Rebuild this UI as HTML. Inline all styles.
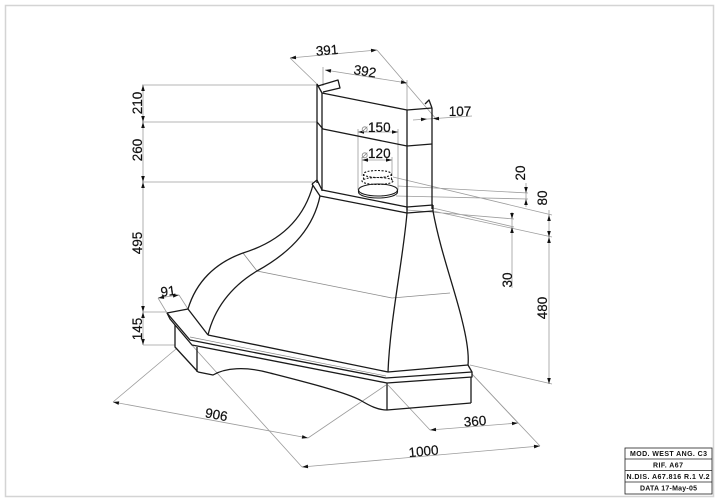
<!DOCTYPE html>
<html><head><meta charset="utf-8"><style>
html,body{margin:0;padding:0;background:#fff;}
svg{display:block;}
text{font-family:"Liberation Sans","DejaVu Sans",sans-serif;fill:#111;}
</style></head><body>
<svg width="717" height="500" viewBox="0 0 717 500" xmlns="http://www.w3.org/2000/svg">
<rect width="717" height="500" fill="#fff"/>
<rect x="5.5" y="5.5" width="708" height="491" fill="none" stroke="#d4d4d4" stroke-width="1.5"/>

<!-- gray extension / dimension lines -->
<g fill="none" stroke="#9c9c9c" stroke-width="0.8">
<path d="M142,85H317M142,122H317M142,182H313M143,85V345M143,312H167M143,345H175"/>
<path d="M158,298L167,313M179,295L188,309M158,298L179,295"/>
<path d="M113,402L308,438M113,402L176,349M308,438L386,385"/>
<path d="M302,467L540,446M302,467L190,343M540,446L472,374"/>
<path d="M430,430L518,423M430,430L388,385M518,423L472,374"/>
<path d="M526,183V207M549,210V384M512,212V288"/>
<path d="M393,177L552,215M433,211L552,237M470,365L552,384M398,186L528,193M396,196L528,199M407,210L514,219M433,208L514,227"/>
<path d="M290,58L377,50M290,58L319,86M377,50L437,120"/>
<path d="M325,70L407,83M323,67V86M407,80V110"/>
<path d="M413,120L472,116"/>
<path d="M358,132H398M358,129V190M398,129V190"/>
<path d="M362,160H392M362,157V176M392,157V176"/>
<path d="M243,253L257,271L392,298L450,293" stroke="#8a8a8a"/>
</g>

<!-- object lines -->
<g fill="none" stroke="#1a1a1a" stroke-width="1.3" stroke-linejoin="round">
<path d="M317,84V183M322,93V191M407,110V210M432,108V209"/>
<path d="M317,84L322,93L407,110L432,108"/>
<path d="M318,86L338,80L340,88L323,92"/>
<path d="M425,104L429,100L432,108"/>
<path d="M317,122L323,129L407,146L432,144"/>
<path d="M312,184L317,180L322,190L407,207L433,205"/>
<path d="M312,184L320,196L407,213L433,211"/>
<path d="M407,207V213M433,205V211"/>
<path d="M313,185C305,215 285,240 243,253C215,263 196,282 188,309"/>
<path d="M320,196C314,225 295,250 257,271C230,287 214,310 208,335"/>
<path d="M407,213C403,260 390,320 388,372"/>
<path d="M433,211C440,250 455,290 462,320C467,340 469,355 468,365"/>
<path d="M208,335L388,372L468,365"/>
<path d="M167,313L188,309L208,335"/>
<path d="M167,313L190,340L386,378L472,372L468,365"/>
<path d="M167,313L170,319L192,345L387,383L472,377L472,372"/>
<path d="M175,325V347L198,372M197,347V372"/>
<path d="M198,372L213,375C225,368 245,366 270,373C305,382 345,392 360,400C370,406 378,410 387,410L471,403"/>
<path d="M387,383V410M471,377V403"/>
</g>
<path d="M190,337L386,376" fill="none" stroke="#888" stroke-width="0.7"/>

<!-- pipe -->
<g fill="none" stroke="#1a1a1a" stroke-width="1.1">
<ellipse cx="377.5" cy="174" rx="14" ry="3.5" stroke-dasharray="2 1.5"/>
<ellipse cx="377.5" cy="181" rx="15.5" ry="3.5" stroke-dasharray="2 1.5"/>
<path d="M363.5,174V181M391.5,174V181" stroke-dasharray="2 1.5"/>
<ellipse cx="378" cy="190" rx="19.5" ry="6"/>
<path d="M358.5,190V192A19.5,6 0 0,0 397.5,192V190"/>
</g>

<!-- arrowheads -->
<g fill="#111">
<polygon points="143,85 141.2,91 144.8,91"/>
<polygon points="143,122 141.2,116 144.8,116"/>
<polygon points="143,122 141.2,128 144.8,128"/>
<polygon points="143,182 141.2,176 144.8,176"/>
<polygon points="143,182 141.2,188 144.8,188"/>
<polygon points="143,312 141.2,306 144.8,306"/>
<polygon points="143,312 141.2,318 144.8,318"/>
<polygon points="143,345 141.2,339 144.8,339"/>
<polygon points="526,193 524.2,187 527.8,187"/>
<polygon points="526,199 524.2,205 527.8,205"/>
<polygon points="549,215 547.2,221 550.8,221"/>
<polygon points="549,237 547.2,231 550.8,231"/>
<polygon points="549,237 547.2,243 550.8,243"/>
<polygon points="549,384 547.2,378 550.8,378"/>
<polygon points="512,219 510.2,213 513.8,213"/>
<polygon points="512,227 510.2,233 513.8,233"/>
<polygon points="358,132 364,130.2 364,133.8"/>
<polygon points="398,132 392,130.2 392,133.8"/>
<polygon points="362,160 368,158.2 368,161.8"/>
<polygon points="392,160 386,158.2 386,161.8"/>
<polygon points="427,119 421.1,121.2 420.9,117.6"/>
<polygon points="433,118.6 439.1,120.4 438.9,116.8"/>
<polygon points="290,58 296.13,59.24 295.81,55.66"/>
<polygon points="377,50 371.19,52.34 370.87,48.76"/>
<polygon points="325,70 330.65,72.72 331.21,69.16"/>
<polygon points="407,83 400.79,83.84 401.35,80.28"/>
<polygon points="113,402 118.57,404.86 119.23,401.32"/>
<polygon points="308,438 301.77,438.68 302.43,435.14"/>
<polygon points="302,467 308.14,468.26 307.82,464.68"/>
<polygon points="540,446 534.18,448.32 533.86,444.74"/>
<polygon points="430,430 436.12,431.31 435.84,427.73"/>
<polygon points="518,423 512.16,425.27 511.88,421.69"/>
<polygon points="158,298 164.19,298.93 163.69,295.37"/>
<polygon points="179,295 173.31,297.63 172.81,294.07"/>
</g>

<!-- dimension texts -->
<g font-size="13.5" text-anchor="middle" stroke="#111" stroke-width="0.2">
<text transform="translate(137,103) rotate(-90)" y="4.8">210</text>
<text transform="translate(137,150) rotate(-90)" y="4.8">260</text>
<text transform="translate(137,243) rotate(-90)" y="4.8">495</text>
<text transform="translate(137,329) rotate(-90)" y="4.8">145</text>
<text transform="translate(520,173) rotate(-90)" y="4.8">20</text>
<text transform="translate(542,198) rotate(-90)" y="4.8">80</text>
<text transform="translate(507,280) rotate(-90)" y="4.8">30</text>
<text transform="translate(542,308) rotate(-90)" y="4.8">480</text>
<text transform="translate(327,50) rotate(-5)" y="4.8">391</text>
<text transform="translate(365,71) rotate(9)" y="4.8">392</text>
<text transform="translate(460,111)" y="4.8">107</text>
<text transform="translate(216.5,414.5) rotate(10.5)" y="4.8">906</text>
<text transform="translate(423.5,451) rotate(-5)" y="4.8">1000</text>
<text transform="translate(475,421) rotate(-4.5)" y="4.8">360</text>
<text transform="translate(168,291) rotate(-8)" y="4.8">91</text>
<text x="376" y="131.8"><tspan fill="#888" stroke="none" font-family="DejaVu Sans, sans-serif" font-size="11">⌀</tspan>150</text>
<text x="376" y="157.8"><tspan fill="#888" stroke="none" font-family="DejaVu Sans, sans-serif" font-size="11">⌀</tspan>120</text>
</g>

<!-- title block -->
<g fill="none" stroke="#222" stroke-width="0.8">
<rect x="625" y="448" width="87" height="46"/>
<path d="M625,459H712M625,470.5H712M625,482H712"/>
</g>
<g font-size="7" font-weight="bold" text-anchor="middle">
<text x="668.5" y="456" textLength="77" lengthAdjust="spacing">MOD.  WEST  ANG.  C3</text>
<text x="668" y="467.5" textLength="30" lengthAdjust="spacing">RIF.  A67</text>
<text x="668" y="479" textLength="83" lengthAdjust="spacing">N.DIS.  A67.816  R.1  V.2</text>
<text x="668.5" y="490.5" textLength="57" lengthAdjust="spacing">DATA  17-May-05</text>
</g>
</svg>
</body></html>
